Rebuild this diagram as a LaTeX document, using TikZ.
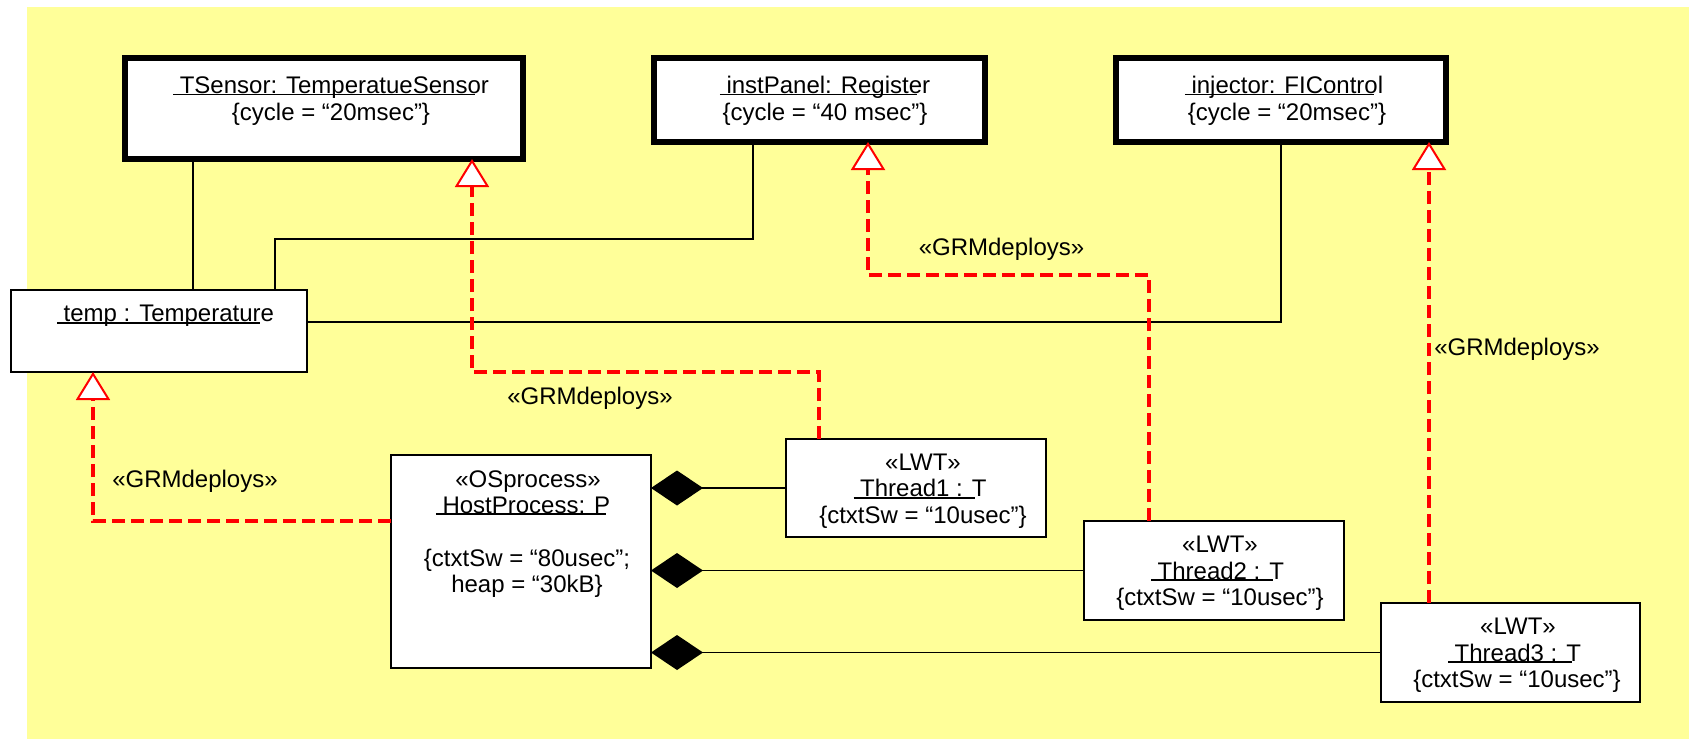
\documentclass[tikz,border=0pt]{standalone}
\usepackage{fontspec}
\setmainfont{Liberation Sans}
\usetikzlibrary{arrows.meta}
\definecolor{sheet}{RGB}{255,255,153}
\definecolor{deployred}{RGB}{255,0,0}
% underlined instance name: leading space underlined, rule stops a little short
\newsavebox\ulbox
\newcommand\ulk[2]{\sbox\ulbox{\ #2}\rlap{\rule[-2pt]{\dimexpr\wd\ulbox-#1pt\relax}{1.6pt}}\usebox\ulbox}

\begin{document}
\begin{tikzpicture}[x=1pt,y=-1pt,
  every node/.style={font=\fontsize{24}{26.5}\selectfont, inner sep=0pt, outer sep=0pt},
  obj/.style={draw, fill=white, line width=2.2pt},
  active/.style={obj, line width=6pt},
  txt/.style={anchor=base},
  link/.style={draw=black, line width=1.5pt},
  deploy/.style={draw=deployred, line width=4pt, dash pattern=on 13pt off 6pt,
    -{Triangle[length=28pt,width=34pt,fill=white,line width=2pt]}},
  compose/.style={link, -{Diamond[length=52pt,width=35pt]}}
]
\useasboundingbox (0,0) rectangle (1689,739);
\fill[white] (0,0) rectangle (1689,739);
\fill[sheet] (27,7) rectangle (1689,739);

% active objects
\node[active, minimum width=398pt, minimum height=101pt] (tsensor) at (324,108.5) {};
\node[txt] (tsensor-l1) at (331,93.3) {\ulk{14}{TSensor: TemperatueSensor}};
\node[txt] (tsensor-l2) at (331,120) {\{cycle = “20msec”\}};

\node[active, minimum width=331pt, minimum height=84pt] (instpanel) at (819.5,100) {};
\node[txt] (instpanel-l1) at (825,93.3) {\ulk{13}{instPanel: Register}};
\node[txt] (instpanel-l2) at (825,120) {\{cycle = “40 msec”\}};

\node[active, minimum width=330pt, minimum height=84pt] (injector) at (1281,100) {};
\node[txt] (injector-l1) at (1284,93.3) {\ulk{9}{injector: FIControl}};
\node[txt] (injector-l2) at (1287,120) {\{cycle = “20msec”\}};

% passive object
\node[obj, minimum width=296pt, minimum height=82pt] (temp) at (159,331) {};
\node[txt] (temp-l1) at (165.5,321.5) {\ulk{14}{temp : Temperature}};

% process and threads
\node[obj, minimum width=260pt, minimum height=213pt] (hostprocess) at (521,561.5) {};
\node[txt] (hp-l1) at (528,487) {«OSprocess»};
\node[txt] (hp-l2) at (523,513) {\ulk{4}{HostProcess: P}};
\node[txt] (hp-l3) at (527,566) {\{ctxtSw = “80usec”;};
\node[txt] (hp-l4) at (527,592) {heap = “30kB\}};

\node[obj, minimum width=260pt, minimum height=98pt] (thread1) at (916,488) {};
\node[txt] (t1-l1) at (923,470) {«LWT»};
\node[txt] (t1-l2) at (920,496.5) {\ulk{11}{Thread1 : T}};
\node[txt] (t1-l3) at (923,523) {\{ctxtSw = “10usec”\}};

\node[obj, minimum width=260pt, minimum height=99pt] (thread2) at (1214,570.5) {};
\node[txt] (t2-l1) at (1220,552.7) {«LWT»};
\node[txt] (t2-l2) at (1217.5,579) {\ulk{11}{Thread2 : T}};
\node[txt] (t2-l3) at (1220,605) {\{ctxtSw = “10usec”\}};

\node[obj, minimum width=259pt, minimum height=99pt] (thread3) at (1510.5,652.5) {};
\node[txt] (t3-l1) at (1518,634) {«LWT»};
\node[txt] (t3-l2) at (1514.5,661) {\ulk{9}{Thread3 : T}};
\node[txt] (t3-l3) at (1517,687) {\{ctxtSw = “10usec”\}};

% associations
\draw[link] (tsensor.south -| 193,0) -- (temp.north -| 193,0);
\draw[link] (temp.north -| 275,0) -- (275,239) -- (753,239) -- (instpanel.south -| 753,0);
\draw[link] (temp.east |- 0,322) -| (injector.south);

% compositions
\draw[compose] (thread1.west) -- (hostprocess.east |- thread1.west);
\draw[compose] (thread2.west) -- (hostprocess.east |- thread2.west);
\draw[compose] (thread3.west) -- (hostprocess.east |- thread3.west);

% deployments
\draw[deploy] (hostprocess.west |- 0,521) -- (93,521) -- (temp.south -| 93,0);
\draw[deploy] (thread1.north -| 819,0) -- (819,372) -- (472,372) -- (tsensor.south -| 472,0);
\draw[deploy] (thread2.north -| 1149,0) -- (1149,275) -- (868,275) -- (instpanel.south -| 868,0);
\draw[deploy] (thread3.north -| 1429,0) -- (injector.south -| 1429,0);

\node[txt] (dep1) at (195,487) {«GRMdeploys»};
\node[txt] (dep2) at (590,404) {«GRMdeploys»};
\node[txt] (dep3) at (1001.5,255) {«GRMdeploys»};
\node[txt] (dep4) at (1517,355) {«GRMdeploys»};
\end{tikzpicture}
\end{document}
